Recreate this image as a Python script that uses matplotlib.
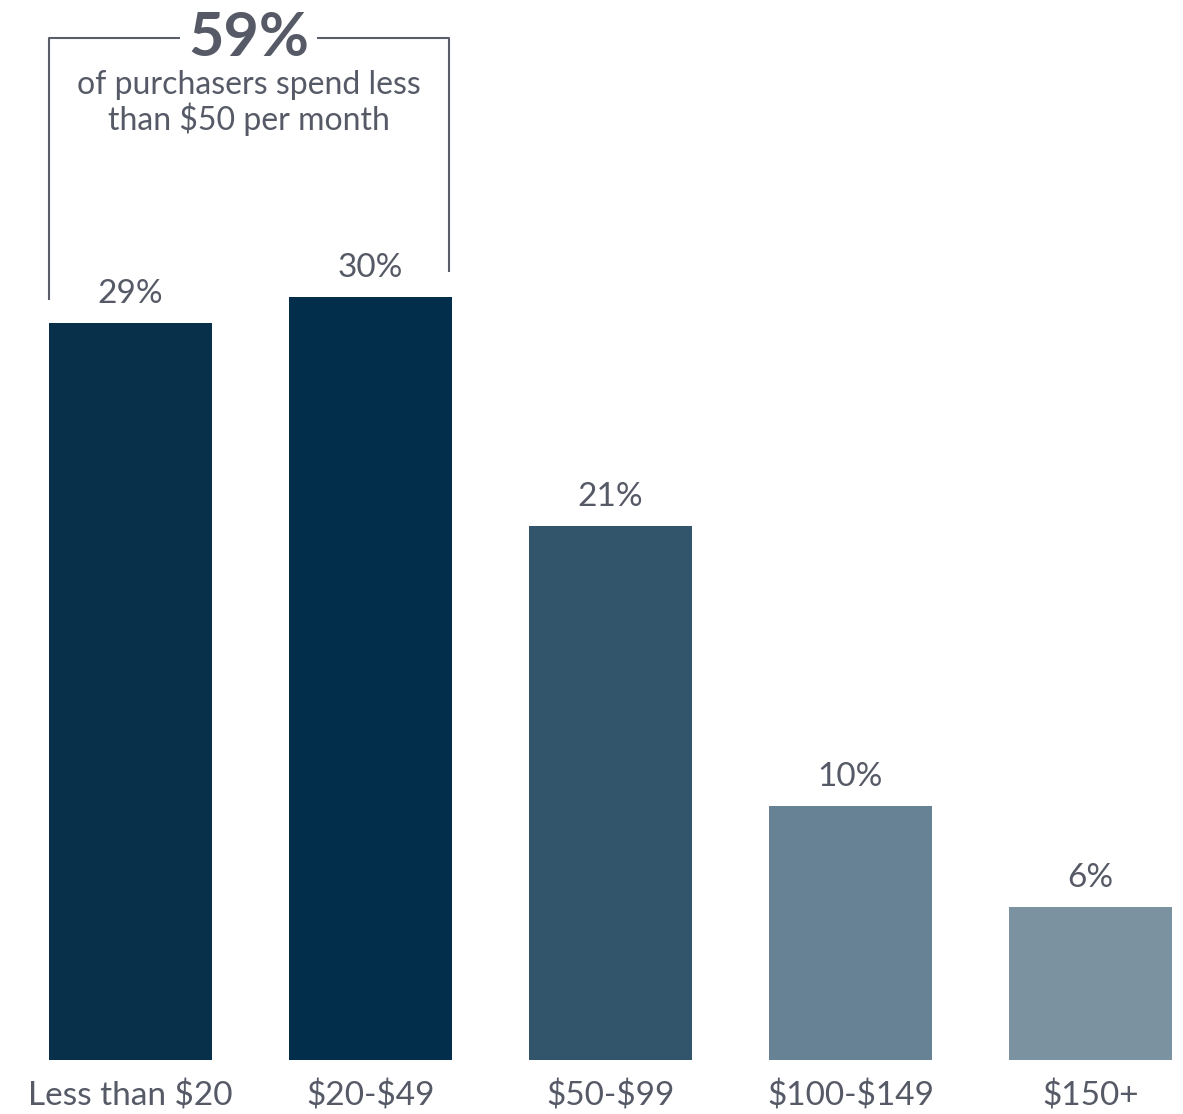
import matplotlib
matplotlib.use("Agg")
import matplotlib.pyplot as plt

categories = ["Less than $20", "$20-$49", "$50-$99", "$100-$149", "$150+"]
shares = [29, 30, 21, 10, 6]
bar_colors = ["#08304b", "#022e4b", "#32556c", "#678294", "#7b92a0"]
headline = "59%"
subtitle = "of purchasers spend less\nthan $50 per month"

text_color = "#555a66"
plt.rcParams["font.family"] = ["Lato", "DejaVu Sans"]
plt.rcParams["text.parse_math"] = False

W, H, DPI = 1183, 1114, 100
fig = plt.figure(figsize=(W / DPI, H / DPI), dpi=DPI)
base_px = 54
ax = fig.add_axes([0, base_px / H, 1, (H - base_px) / H])

px_per_unit = 25.43
step = 240.0
x0 = 130.5
ax.set_xlim(-x0 / step, (W - x0) / step)
ax.set_ylim(0, (H - base_px) / px_per_unit)

width = 163 / step
xs = list(range(len(categories)))
ax.bar(xs, shares, width=width, color=bar_colors, linewidth=0)

for x, v in zip(xs, shares):
    ax.text(x, v + 0.55, f"{v}%", ha="center", va="bottom",
            fontsize=24, color=text_color)

ax.set_xticks(xs)
ax.set_xticklabels(categories, fontsize=24, color=text_color)
ax.tick_params(axis="x", length=0, pad=15)
ax.tick_params(axis="y", left=False, labelleft=False)
for s in ax.spines.values():
    s.set_visible(False)

# bracket grouping the first two bars
left_x = -width / 2 + 0.002
right_x = 1 + width / 2 - 0.013
top_y = 40.2
gap_l = (180 - x0) / step
gap_r = (317 - x0) / step
lc = "#5a5e69"
lw = 1.5
ax.plot([left_x, left_x, gap_l], [shares[0] + 0.9, top_y, top_y],
        color=lc, lw=lw, clip_on=False, solid_capstyle="butt")
ax.plot([gap_r, right_x, right_x], [top_y, top_y, shares[1] + 1.0],
        color=lc, lw=lw, clip_on=False, solid_capstyle="butt")

mid = (gap_l + gap_r) / 2
ax.text(mid, top_y, headline, ha="center", va="center", fontsize=44,
        fontweight="bold", color=text_color)
ax.text(mid, 38.95, subtitle, ha="center", va="top", fontsize=23,
        color=text_color, linespacing=1.12)

fig.savefig("out.png", dpi=DPI)
